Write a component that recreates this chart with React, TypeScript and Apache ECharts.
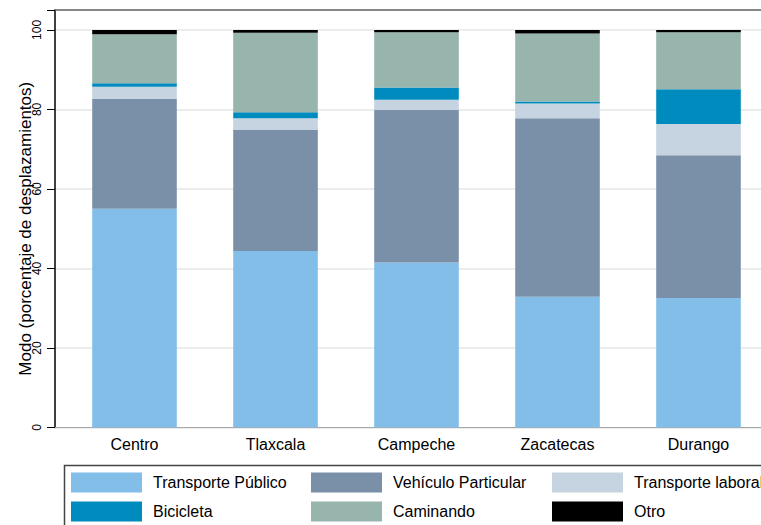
import React, { useEffect, useRef } from "react";
import * as echarts from "echarts";

const categories = ["Centro", "Tlaxcala", "Campeche", "Zacatecas", "Durango"];
const transportePublico = [55.0, 44.4, 41.5, 32.9, 32.6];
const vehiculoParticular = [27.6, 30.4, 38.4, 44.9, 35.9];
const transporteLaboral = [3.1, 3.0, 2.5, 3.7, 7.8];
const bicicleta = [0.9, 1.5, 3.1, 0.5, 8.8];
const caminando = [12.3, 20.0, 13.9, 17.1, 14.3];
const otro = [1.1, 0.7, 0.6, 0.9, 0.6];

const seriesNames = [
  "Transporte Público",
  "Vehículo Particular",
  "Transporte laboral",
  "Bicicleta",
  "Caminando",
  "Otro",
];
const seriesData = [transportePublico, vehiculoParticular, transporteLaboral, bicicleta, caminando, otro];
const colors = ["#82BEE8", "#7A90A8", "#C6D3E0", "#008BBE", "#97B5AD", "#000000"];
const yTicks = [0, 20, 40, 60, 80, 100];
const legendColumns = [
  [seriesNames[0], seriesNames[3]],
  [seriesNames[1], seriesNames[4]],
  [seriesNames[2], seriesNames[5]],
];

const FONT = "'Liberation Sans', Arial, Helvetica, sans-serif";

export default function App() {
  const ref = useRef<HTMLDivElement>(null);
  useEffect(() => {
    if (!ref.current) return;
    const chart = echarts.init(ref.current, null, { renderer: "svg" });
    const colLeft = [71, 311, 552];
    chart.setOption({
      animation: false,
      textStyle: { fontFamily: FONT },
      legend: legendColumns.map((names, i) => ({
        data: names,
        orient: "vertical",
        left: colLeft[i],
        top: 472.5,
        padding: 0,
        itemGap: 9,
        itemWidth: 71,
        itemHeight: 20,
        icon: "rect",
        textStyle: {
          fontSize: 16,
          color: "#000",
          fontFamily: FONT,
          padding: [0, 0, 0, 6],
        },
      })),
      graphic: [
        {
          type: "rect",
          left: 62,
          top: 463,
          z: -1,
          shape: { width: 760, height: 120 },
          style: { fill: "none", stroke: "#444", lineWidth: 1.5 },
        },
      ],
      grid: [
        { left: 55, top: 10, width: 800, height: 417.5, outerBoundsMode: "none" },
        { left: 64, top: 10, width: 705, height: 417.5, outerBoundsMode: "none" },
      ],
      xAxis: [
        {
          gridIndex: 0,
          type: "value",
          min: 0,
          max: 1,
          position: "bottom",
          axisLine: { show: true, lineStyle: { color: "#a8a8a8", width: 1 } },
          axisTick: { show: false },
          axisLabel: { show: false },
          splitLine: { show: false },
        },
        {
          gridIndex: 0,
          type: "value",
          min: 0,
          max: 1,
          position: "top",
          axisLine: { show: true, lineStyle: { color: "#666", width: 1.5 } },
          axisTick: { show: false },
          axisLabel: { show: false },
          splitLine: { show: false },
        },
        {
          gridIndex: 1,
          type: "category",
          data: categories,
          axisLine: { show: false },
          axisTick: { show: false },
          axisLabel: { fontSize: 16, color: "#000", margin: 9, fontFamily: FONT },
        },
      ],
      yAxis: [
        {
          gridIndex: 0,
          type: "value",
          min: 0,
          max: 105,
          interval: 20,
          name: "Modo (porcentaje de desplazamientos)",
          nameLocation: "middle",
          nameRotate: 90,
          nameGap: 21.5,
          nameMoveOverlap: false,
          nameTextStyle: { fontSize: 17, color: "#000", fontFamily: FONT, padding: [0, 20, 0, 0] },
          axisLine: { show: true, lineStyle: { color: "#000", width: 1.5 } },
          axisTick: { show: true, length: 8, lineStyle: { color: "#000", width: 1 } },
          axisLabel: {
            rotate: 90,
            fontSize: 12,
            color: "#000",
            margin: 12,
            fontFamily: FONT,
            formatter: (v: number) => (yTicks.includes(v) ? String(v) : ""),
          },
          splitLine: { show: true, lineStyle: { color: "#e6e6e6", width: 1.5 } },
        },
        {
          gridIndex: 1,
          type: "value",
          min: 0,
          max: 105,
          show: false,
        },
      ],
      series: seriesNames.map((name, i) => ({
        name,
        type: "bar",
        stack: "total",
        xAxisIndex: 2,
        yAxisIndex: 1,
        barWidth: "60%",
        data: seriesData[i],
        itemStyle: { color: colors[i] },
        emphasis: { disabled: true },
      })),
    });
    return () => chart.dispose();
  }, []);
  return (
    <div
      ref={ref}
      style={{ position: "absolute", left: 0, top: 0, width: 761, height: 525 }}
    />
  );
}
